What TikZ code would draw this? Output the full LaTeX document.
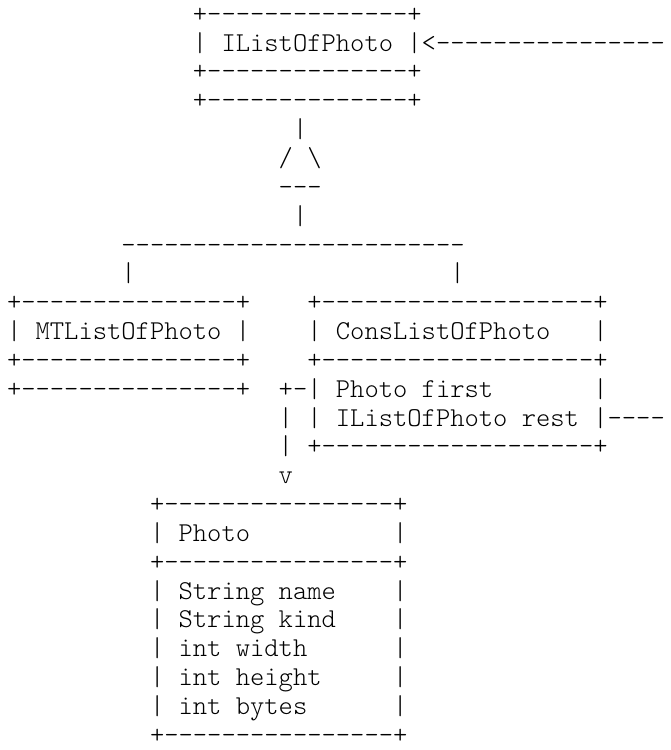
\documentclass[tikz,border=0pt]{standalone}
\ExplSyntaxOn
\cs_new:Npn \asciidashes #1 { \prg_replicate:nn {#1} { -\kern0pt } }
\ExplSyntaxOff
\newcommand\colx[1]{7+#1*14.3}
\newcommand\rowy[1]{22.3+(#1-1)*28.84}
\tikzset{txt/.style={anchor=base west, inner sep=0pt, outer sep=0pt, text=black,
  font=\fontsize{27.24bp}{30bp}\fontseries{l}\ttfamily\selectfont}}
\begin{document}
\begin{tikzpicture}[x=1bp,y=-1bp]
\useasboundingbox (0,0) rectangle (671,750);
% interface box
\node[txt] (l1)  at ({\colx{13}},{\rowy{1}}) {+\asciidashes{14}+};
\node[txt] (l2)  at ({\colx{13}},{\rowy{2}}) {| IListOfPhoto |<\asciidashes{16}};
\node[txt] (l3)  at ({\colx{13}},{\rowy{3}}) {+\asciidashes{14}+};
\node[txt] (l4)  at ({\colx{13}},{\rowy{4}}) {+\asciidashes{14}+};
% inheritance triangle
\node[txt] (l5)  at ({\colx{20}},{\rowy{5}}) {|};
\node[txt] (l6)  at ({\colx{19}},{\rowy{6}}) {/ \textbackslash};
\node[txt] (l7)  at ({\colx{19}},{\rowy{7}}) {\asciidashes{3}};
\node[txt] (l8)  at ({\colx{20}},{\rowy{8}}) {|};
\node[txt] (l9)  at ({\colx{8}},{\rowy{9}}) {\asciidashes{24}};
\node[txt] (l10a) at ({\colx{8}},{\rowy{10}}) {|};
\node[txt] (l10b) at ({\colx{31}},{\rowy{10}}) {|};
% MTListOfPhoto
\node[txt] (mt1) at ({\colx{0}},{\rowy{11}}) {+\asciidashes{15}+};
\node[txt] (mt2) at ({\colx{0}},{\rowy{12}}) {| MTListOfPhoto |};
\node[txt] (mt3) at ({\colx{0}},{\rowy{13}}) {+\asciidashes{15}+};
\node[txt] (mt4) at ({\colx{0}},{\rowy{14}}) {+\asciidashes{15}+};
% ConsListOfPhoto
\node[txt] (c1)  at ({\colx{21}},{\rowy{11}}) {+\asciidashes{19}+};
\node[txt] (c2)  at ({\colx{21}},{\rowy{12}}) {| ConsListOfPhoto};
\node[txt] (c2r) at ({\colx{41}},{\rowy{12}}) {|};
\node[txt] (c3)  at ({\colx{21}},{\rowy{13}}) {+\asciidashes{19}+};
\node[txt] (c4)  at ({\colx{19}},{\rowy{14}}) {+-| Photo first};
\node[txt] (c4r) at ({\colx{41}},{\rowy{14}}) {|};
\node[txt] (c5)  at ({\colx{19}},{\rowy{15}}) {| | IListOfPhoto rest |\asciidashes{4}};
\node[txt] (c6)  at ({\colx{19}},{\rowy{16}}) {| +\asciidashes{19}+};
\node[txt] (c7)  at ({\colx{19}},{\rowy{17}}) {v};
% Photo
\node[txt] (p1)  at ({\colx{10}},{\rowy{18}}) {+\asciidashes{16}+};
\node[txt] (p2)  at ({\colx{10}},{\rowy{19}}) {| Photo};
\node[txt] (p2r) at ({\colx{27}},{\rowy{19}}) {|};
\node[txt] (p3)  at ({\colx{10}},{\rowy{20}}) {+\asciidashes{16}+};
\node[txt] (p4)  at ({\colx{10}},{\rowy{21}}) {| String name};
\node[txt] (p4r) at ({\colx{27}},{\rowy{21}}) {|};
\node[txt] (p5)  at ({\colx{10}},{\rowy{22}}) {| String kind};
\node[txt] (p5r) at ({\colx{27}},{\rowy{22}}) {|};
\node[txt] (p6)  at ({\colx{10}},{\rowy{23}}) {| int width};
\node[txt] (p6r) at ({\colx{27}},{\rowy{23}}) {|};
\node[txt] (p7)  at ({\colx{10}},{\rowy{24}}) {| int height};
\node[txt] (p7r) at ({\colx{27}},{\rowy{24}}) {|};
\node[txt] (p8)  at ({\colx{10}},{\rowy{25}}) {| int bytes};
\node[txt] (p8r) at ({\colx{27}},{\rowy{25}}) {|};
\node[txt] (p9)  at ({\colx{10}},{\rowy{26}}) {+\asciidashes{16}+};
\end{tikzpicture}
\end{document}
